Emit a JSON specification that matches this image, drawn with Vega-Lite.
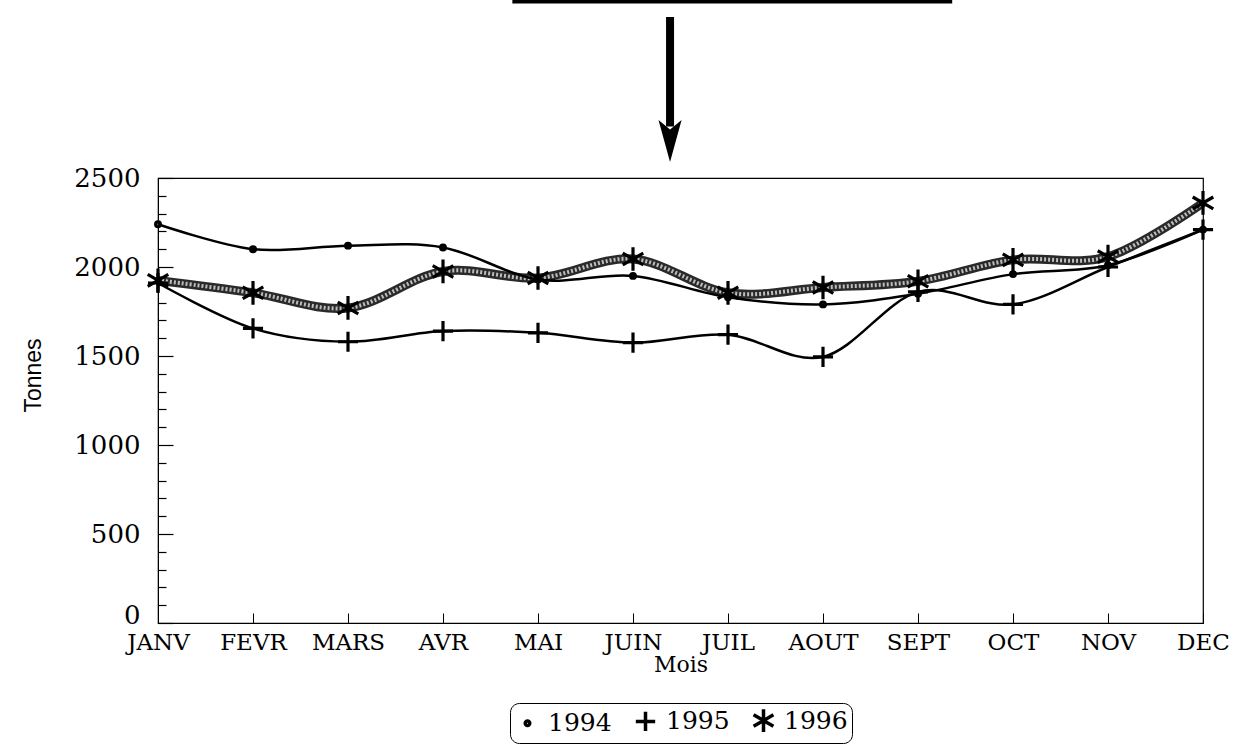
{
  "$schema": "https://vega.github.io/schema/vega-lite/v6.json",
  "autosize": {"type": "none"},
  "width": 1045,
  "height": 445,
  "padding": {"left": 158, "top": 178, "right": 32, "bottom": 126},
  "background": "white",
  "config": {
    "view": {"stroke": "black", "strokeWidth": 1.2},
    "axis": {"domainColor": "black", "tickColor": "black", "labelColor": "black", "titleColor": "black", "grid": false}
  },
  "datasets": {
    "series": [
      {"mois": 1, "annee": "1994", "tonnes": 2240},
      {"mois": 2, "annee": "1994", "tonnes": 2100},
      {"mois": 3, "annee": "1994", "tonnes": 2120},
      {"mois": 4, "annee": "1994", "tonnes": 2110},
      {"mois": 5, "annee": "1994", "tonnes": 1930},
      {"mois": 6, "annee": "1994", "tonnes": 1950},
      {"mois": 7, "annee": "1994", "tonnes": 1830},
      {"mois": 8, "annee": "1994", "tonnes": 1790},
      {"mois": 9, "annee": "1994", "tonnes": 1850},
      {"mois": 10, "annee": "1994", "tonnes": 1960},
      {"mois": 11, "annee": "1994", "tonnes": 2010},
      {"mois": 12, "annee": "1994", "tonnes": 2210},
      {"mois": 1, "annee": "1995", "tonnes": 1910},
      {"mois": 2, "annee": "1995", "tonnes": 1655},
      {"mois": 3, "annee": "1995", "tonnes": 1580},
      {"mois": 4, "annee": "1995", "tonnes": 1640},
      {"mois": 5, "annee": "1995", "tonnes": 1630},
      {"mois": 6, "annee": "1995", "tonnes": 1575},
      {"mois": 7, "annee": "1995", "tonnes": 1620},
      {"mois": 8, "annee": "1995", "tonnes": 1495},
      {"mois": 9, "annee": "1995", "tonnes": 1860},
      {"mois": 10, "annee": "1995", "tonnes": 1790},
      {"mois": 11, "annee": "1995", "tonnes": 2000},
      {"mois": 12, "annee": "1995", "tonnes": 2210},
      {"mois": 1, "annee": "1996", "tonnes": 1925},
      {"mois": 2, "annee": "1996", "tonnes": 1855},
      {"mois": 3, "annee": "1996", "tonnes": 1770},
      {"mois": 4, "annee": "1996", "tonnes": 1975},
      {"mois": 5, "annee": "1996", "tonnes": 1938},
      {"mois": 6, "annee": "1996", "tonnes": 2045},
      {"mois": 7, "annee": "1996", "tonnes": 1855},
      {"mois": 8, "annee": "1996", "tonnes": 1885},
      {"mois": 9, "annee": "1996", "tonnes": 1920},
      {"mois": 10, "annee": "1996", "tonnes": 2040},
      {"mois": 11, "annee": "1996", "tonnes": 2058},
      {"mois": 12, "annee": "1996", "tonnes": 2360}
    ],
    "fleche": [{"mois": 6.39, "haut": 3404, "bas": 2790, "pointe": 2708}],
    "barre": [{"debut": 4.73, "fin": 9.36, "niveau": 3492}]
  },
  "layer": [
    {
      "data": {"name": "series"},
      "transform": [{"filter": "datum.annee === '1996'"}],
      "mark": {"type": "line", "interpolate": "cardinal", "color": "#2a2a2a", "strokeWidth": 9},
      "encoding": {
        "x": {
          "field": "mois", "type": "quantitative",
          "scale": {"domain": [1, 12], "nice": false, "zero": false},
          "axis": {
            "values": [1, 2, 3, 4, 5, 6, 7, 8, 9, 10, 11, 12],
            "tickCount": 30,
            "labelExpr": "['JANV','FEVR','MARS','AVR','MAI','JUIN','JUIL','AOUT','SEPT','OCT','NOV','DEC'][datum.value - 1]",
            "labelFont": "DejaVu Serif", "labelFontSize": 23,
            "labelFlush": false, "labelOverlap": false, "labelBound": false,
            "tickSize": -10, "labelPadding": 18, "tickWidth": 1,
            "title": "Mois", "titleFont": "DejaVu Serif", "titleFontSize": 22, "titleFontWeight": "normal", "titlePadding": 0
          }
        },
        "y": {
          "field": "tonnes", "type": "quantitative",
          "scale": {"domain": [0, 2500], "nice": false},
          "axis": {
            "values": [0, 100, 200, 300, 400, 500, 600, 700, 800, 900, 1000, 1100, 1200, 1300, 1400, 1500, 1600, 1700, 1800, 1900, 2000, 2100, 2200, 2300, 2400, 2500],
            "tickCount": 60,
            "format": "d",
            "labelExpr": "datum.value % 500 === 0 ? datum.label : ''",
            "labelFont": "DejaVu Serif", "labelFontSize": 26,
            "labelBaseline": {"condition": {"test": "datum.value === 0", "value": "alphabetic"}, "value": "middle"},
            "labelFlush": false, "labelOverlap": false, "labelBound": false,
            "tickSize": {"condition": {"test": "datum.value % 500 === 0", "value": -15}, "value": -8},
            "labelPadding": 33, "tickWidth": 1.2,
            "title": "Tonnes", "titleFont": "Liberation Sans", "titleFontSize": 23, "titleFontWeight": "normal",
            "titleX": -125, "titleY": 197, "titleAlign": "center", "titleBaseline": "middle", "titleAngle": -90
          }
        }
      }
    },
    {
      "data": {"name": "series"},
      "transform": [{"filter": "datum.annee === '1996'"}],
      "mark": {"type": "line", "interpolate": "cardinal", "color": "#bdbdbd", "strokeWidth": 4, "strokeDash": [2, 2]},
      "encoding": {
        "x": {"field": "mois", "type": "quantitative"},
        "y": {"field": "tonnes", "type": "quantitative"}
      }
    },
    {
      "data": {"name": "series"},
      "transform": [{"filter": "datum.annee !== '1996'"}],
      "mark": {"type": "line", "interpolate": "cardinal", "color": "black", "strokeWidth": 2.5},
      "encoding": {
        "x": {"field": "mois", "type": "quantitative"},
        "y": {"field": "tonnes", "type": "quantitative"},
        "detail": {"field": "annee"}
      }
    },
    {
      "data": {"name": "series"},
      "mark": {"type": "point", "filled": false, "stroke": "black", "strokeWidth": 3.2, "size": 560, "opacity": 1},
      "encoding": {
        "x": {"field": "mois", "type": "quantitative"},
        "y": {"field": "tonnes", "type": "quantitative"},
        "shape": {
          "field": "annee", "type": "nominal",
          "scale": {"domain": ["1994", "1995", "1996"], "range": ["M-0.2,0A0.2,0.2 0 1,0 0.2,0A0.2,0.2 0 1,0 -0.2,0Z", "M-0.85,0L0.85,0M0,-0.85L0,0.85", "M0,-1L0,1M-0.87,-0.5L0.87,0.5M-0.87,0.5L0.87,-0.5"]},
          "legend": {
            "orient": "none", "legendX": 352, "legendY": 525, "direction": "horizontal",
            "title": null, "labelFont": "DejaVu Serif", "labelFontSize": 25, "labelColor": "black",
            "symbolStrokeColor": "black", "symbolStrokeWidth": 3.5, "symbolSize": 520, "symbolFillColor": "transparent",
            "strokeColor": "black", "cornerRadius": 9, "padding": 4, "columnPadding": 16, "labelOffset": 7
          }
        }
      }
    },
    {
      "data": {"name": "barre"},
      "mark": {"type": "rule", "color": "black", "strokeWidth": 4},
      "encoding": {
        "x": {"field": "debut", "type": "quantitative"},
        "x2": {"field": "fin"},
        "y": {"field": "niveau", "type": "quantitative"}
      }
    },
    {
      "data": {"name": "fleche"},
      "mark": {"type": "rule", "color": "black", "strokeWidth": 8},
      "encoding": {
        "x": {"field": "mois", "type": "quantitative"},
        "y": {"field": "haut", "type": "quantitative"},
        "y2": {"field": "bas"}
      }
    },
    {
      "data": {"name": "fleche"},
      "mark": {"type": "point", "filled": true, "color": "black", "shape": "M-0.55,-1L0,1L0.55,-1L0,-0.55Z", "size": 1764, "opacity": 1},
      "encoding": {
        "x": {"field": "mois", "type": "quantitative"},
        "y": {"field": "pointe", "type": "quantitative"}
      }
    }
  ]
}
